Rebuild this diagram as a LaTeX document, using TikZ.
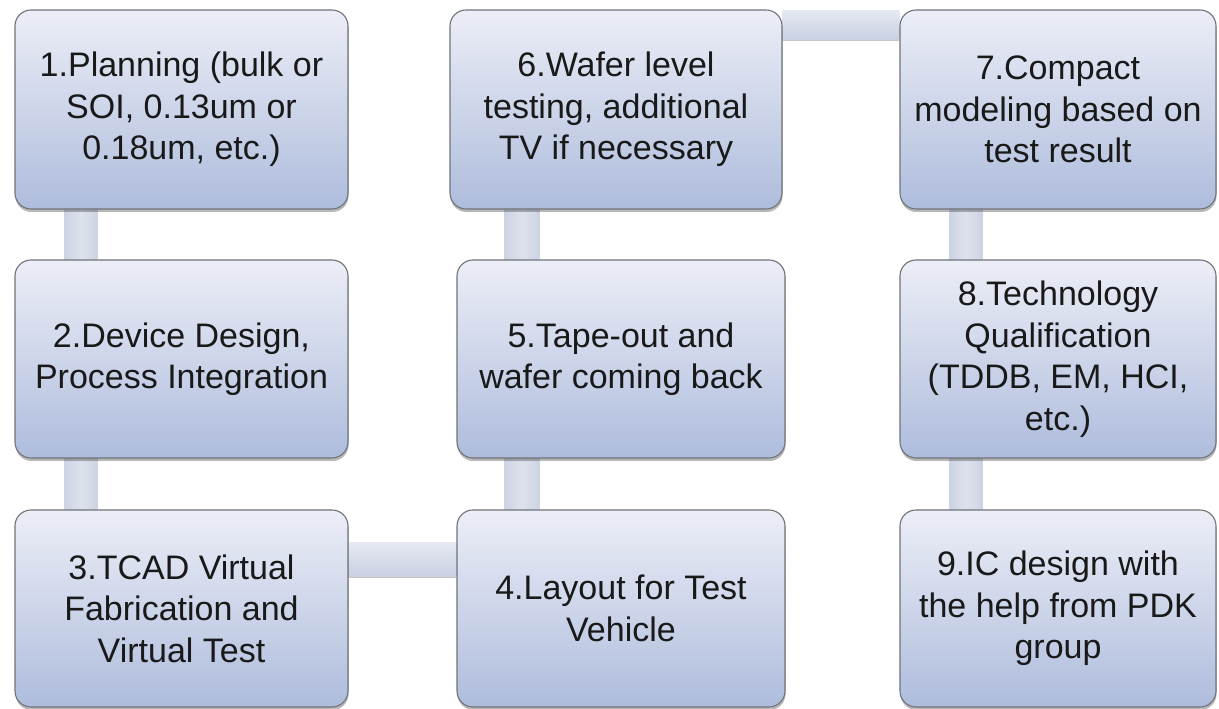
\documentclass[tikz,border=0pt]{standalone}
\usepackage{fontspec}
\setmainfont{Liberation Sans}
\usetikzlibrary{shadows,backgrounds}
\definecolor{boxtop}{HTML}{ECEEF7}
\definecolor{boxbot}{HTML}{AEBCDC}
\definecolor{boxborder}{HTML}{707378}
\definecolor{conntop}{HTML}{E6E9F2}
\definecolor{connbot}{HTML}{C9D0E2}
\definecolor{connmid}{HTML}{DEE2EC}
\definecolor{connedge}{HTML}{CDD3E3}
\tikzset{
  stepbox/.style={draw=boxborder, line width=1.1pt, rounded corners=16pt,
    top color=boxtop, bottom color=boxbot, align=center, inner sep=0pt,
    text=black!90, font=\fontsize{34}{41.5}\selectfont,
    drop shadow={shadow xshift=0.5pt, shadow yshift=-3pt, opacity=0.35, fill=black!80}},
  hconn/.style={top color=conntop, bottom color=connbot,
    drop shadow={shadow xshift=0pt, shadow yshift=-2pt, opacity=0.3, fill=black!70}},
  vconn/.style={left color=connedge, right color=connedge, middle color=connmid}
}
\begin{document}
\begin{tikzpicture}[x=1pt,y=1pt]
\useasboundingbox (0,0) rectangle (1219,709);
% column 1
\node[stepbox, minimum width=333pt, minimum height=199pt] (n1) at (181.5,599.5)
  {1.Planning (bulk or\\SOI, 0.13um or\\0.18um, etc.)};
\node[stepbox, minimum width=333pt, minimum height=198pt] (n2) at (181.5,350)
  {2.Device Design,\\Process Integration};
\node[stepbox, minimum width=333pt, minimum height=197pt] (n3) at (181.5,100.5)
  {3.TCAD Virtual\\Fabrication and\\Virtual Test};
% column 2
\node[stepbox, minimum width=332pt, minimum height=199pt] (n6) at (616,599.5)
  {6.Wafer level\\testing, additional\\TV if necessary};
\node[stepbox, minimum width=328pt, minimum height=198pt] (n5) at (621,350)
  {5.Tape-out and\\wafer coming back};
\node[stepbox, minimum width=328pt, minimum height=197pt] (n4) at (621,100.5)
  {4.Layout for Test\\Vehicle};
% column 3
\node[stepbox, minimum width=316pt, minimum height=199pt] (n7) at (1058,599.5)
  {7.Compact\\modeling based on\\test result};
\node[stepbox, minimum width=316pt, minimum height=198pt] (n8) at (1058,350)
  {8.Technology\\Qualification\\(TDDB, EM, HCI,\\etc.)};
\node[stepbox, minimum width=316pt, minimum height=197pt] (n9) at (1058,100.5)
  {9.IC design with\\the help from PDK\\group};
% connectors
\begin{pgfonlayer}{background}
\fill[white] (0,0) rectangle (1219,709);
\fill[vconn] ([xshift=50pt]n1.south west) rectangle ([xshift=83pt]n2.north west);
\fill[vconn] ([xshift=50pt]n2.south west) rectangle ([xshift=83pt]n3.north west);
\fill[hconn] ([yshift=-33pt]n3.north east) rectangle ([yshift=-67pt]n4.north west);
\fill[vconn] ([xshift=48pt]n4.north west) rectangle ([xshift=83pt]n5.south west);
\fill[vconn] ([xshift=48pt]n5.north west) rectangle ([xshift=83pt]n5.north west |- n6.south);
\fill[hconn] ([yshift=-1pt]n6.north east) rectangle ([yshift=-30pt]n7.north west);
\fill[vconn] ([xshift=50pt]n7.south west) rectangle ([xshift=83pt]n8.north west);
\fill[vconn] ([xshift=50pt]n8.south west) rectangle ([xshift=83pt]n9.north west);
\end{pgfonlayer}
\end{tikzpicture}
\end{document}
